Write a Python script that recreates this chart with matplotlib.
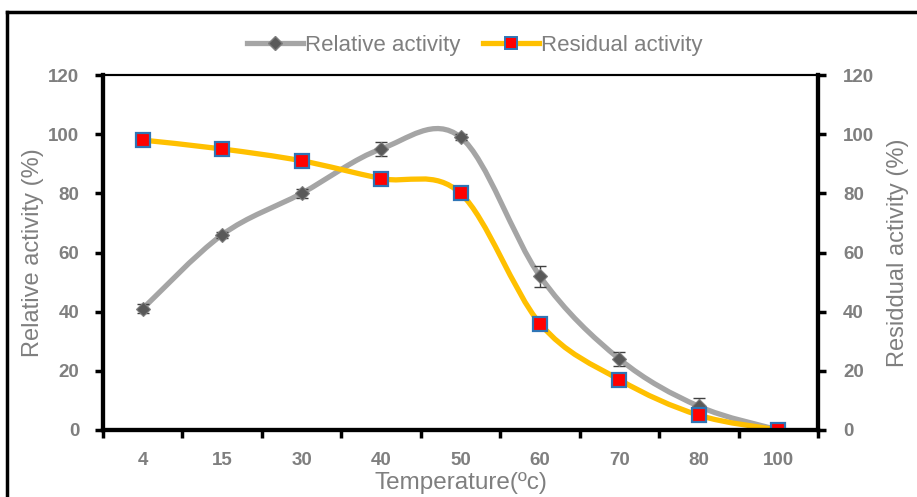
import numpy as np
import matplotlib
matplotlib.use("Agg")
import matplotlib.pyplot as plt
from matplotlib.path import Path
from matplotlib.patches import PathPatch
from matplotlib.lines import Line2D

# -- data
temps = ["4", "15", "30", "40", "50", "60", "70", "80", "100"]
relative = [41, 66, 80, 95, 99, 52, 24, 8, 0]
relative_err = [1.5, 1.0, 1.5, 2.5, 1.0, 3.6, 2.5, 2.8, 0]
residual = [98, 95, 91, 85, 80, 36, 17, 5, 0]

GREY_TXT = "#7f7f7f"
plt.rcParams['font.family'] = ['Liberation Sans', 'DejaVu Sans']


def smooth_path(xs, ys, t=1.0 / 6):
    # Excel-like smoothed line: cubic bezier through every point
    pts = np.column_stack([xs, ys]).astype(float)
    n = len(pts)
    verts = [pts[0]]
    codes = [Path.MOVETO]
    for i in range(n - 1):
        p0 = pts[i - 1] if i > 0 else pts[i]
        p1 = pts[i]
        p2 = pts[i + 1]
        p3 = pts[i + 2] if i + 2 < n else pts[i + 1]
        c1 = p1 + (p2 - p0) * t
        c2 = p2 - (p3 - p1) * t
        verts += [c1, c2, p2]
        codes += [Path.CURVE4] * 3
    return Path(verts, codes)


fig = plt.figure(figsize=(9.17, 4.97), dpi=100)
ax = fig.add_axes([103 / 917, 1 - 430 / 497, 715 / 917, 355 / 497])
ax2 = ax.twinx()

x = np.arange(len(temps))

ax.add_patch(PathPatch(smooth_path(x, relative), fill=False, edgecolor="#a5a5a5",
                       lw=3.8, capstyle="round", zorder=2))
ax.add_patch(PathPatch(smooth_path(x, residual), fill=False, edgecolor="#ffc000",
                       lw=3.8, capstyle="round", zorder=2))
ax.errorbar(x, relative, yerr=relative_err, fmt="none", ecolor="#404040",
            elinewidth=1.0, capsize=4, capthick=1.0, zorder=3)
ax.plot(x, relative, ls="none", marker="D", ms=7, mfc="#595959", mec="#7f7f7f",
        mew=0.8, zorder=4)
ax.plot(x, residual, ls="none", marker="s", ms=10, mfc="#ff0000", mec="#2e75b6",
        mew=1.6, zorder=5)

ax.set_xlim(-0.5, len(temps) - 0.5)
for a in (ax, ax2):
    a.set_ylim(0, 120)
    a.set_yticks(range(0, 121, 20))
ax.set_xticks(x)
ax.set_xticks(np.arange(-0.5, len(temps)), minor=True)
ax.set_xticklabels(temps)
ax.tick_params(axis="x", which="major", length=0, pad=16)
ax.tick_params(axis="x", which="minor", length=6, width=2.5, direction="out")
ax.tick_params(axis="y", length=6, width=2.5, pad=11)
ax2.tick_params(axis="y", length=6, width=2.5, pad=12)

for lab in ax.get_xticklabels() + ax.get_yticklabels() + ax2.get_yticklabels():
    lab.set_fontsize(13.5)
    lab.set_fontweight("bold")
    lab.set_color(GREY_TXT)

for a in (ax, ax2):
    a.spines["left"].set_linewidth(3)
    a.spines["bottom"].set_linewidth(3)
    a.spines["right"].set_linewidth(3)
    a.spines["top"].set_linewidth(1.5)

ax.set_ylabel("Relative activity (%)", fontsize=17, color=GREY_TXT, labelpad=3)
ax2.set_ylabel("Residdual activity (%)", fontsize=17, color=GREY_TXT, labelpad=9)
ax.set_xlabel("Temperature(\u00bac)", fontsize=17.5, color=GREY_TXT, labelpad=2)

handles = [
    Line2D([], [], color="#a5a5a5", lw=3.8, marker="D", ms=7, mfc="#595959", mec="#7f7f7f"),
    Line2D([], [], color="#ffc000", lw=3.8, marker="s", ms=9, mfc="#ff0000", mec="#2e75b6", mew=1.4),
]
fig.legend(handles, ["Relative activity", "Residual activity"], loc="center",
           bbox_to_anchor=(475 / 917, 1 - 45 / 497), ncol=2, frameon=False,
           fontsize=16, labelcolor=GREY_TXT, handlelength=2.5, handletextpad=0.12,
           columnspacing=1.0)

# outer frame of the figure (left and top edges visible)
fig.add_artist(Line2D([7 / 917, 7 / 917], [0, 1 - 12 / 497], color="black", lw=2.5,
                      transform=fig.transFigure))
fig.add_artist(Line2D([7 / 917, 1], [1 - 12 / 497, 1 - 12 / 497], color="black", lw=2.5,
                      transform=fig.transFigure))

fig.savefig("out.png", dpi=100)
